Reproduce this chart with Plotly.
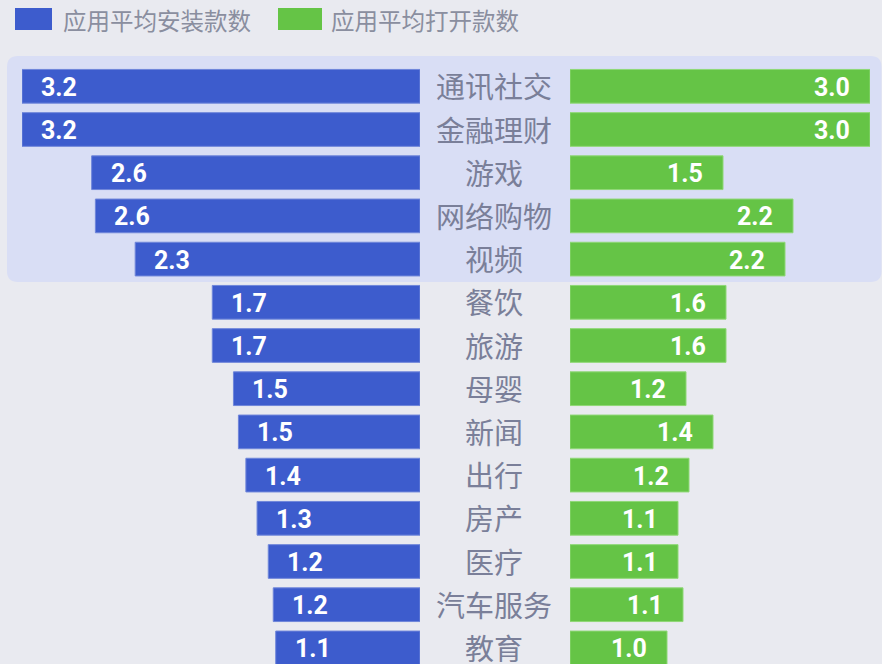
import plotly.graph_objects as go

# datos
categorias = ['通讯社交', '金融理财', '游戏', '网络购物', '视频', '餐饮', '旅游',
              '母婴', '新闻', '出行', '房产', '医疗', '汽车服务', '教育']
instalados = [3.20, 3.20, 2.64, 2.61, 2.29, 1.67, 1.67, 1.50, 1.46, 1.40, 1.31, 1.22, 1.18, 1.16]
instalados_txt = ['3.2', '3.2', '2.6', '2.6', '2.3', '1.7', '1.7', '1.5', '1.5', '1.4', '1.3', '1.2', '1.2', '1.1']
abiertos = [3.00, 3.00, 1.53, 2.23, 2.15, 1.56, 1.56, 1.16, 1.43, 1.19, 1.08, 1.08, 1.13, 0.97]
abiertos_txt = ['3.0', '3.0', '1.5', '2.2', '2.2', '1.6', '1.6', '1.2', '1.4', '1.2', '1.1', '1.1', '1.1', '1.0']
series = ['应用平均安装款数', '应用平均打开款数']

W, H = 882, 664
AZUL = '#3D5CCD'
VERDE = '#65C446'
FONDO = '#E9EAF0'
NUM_FONT = dict(family='Roboto, sans-serif', size=25, color='white', weight=700)

fig = go.Figure()

fig.add_trace(go.Bar(
    y=categorias, x=instalados, orientation='h', xaxis='x', yaxis='y',
    marker=dict(color=AZUL, line=dict(width=1, color='#6F86DA')), showlegend=False,
    hoverinfo='skip'
))
fig.add_trace(go.Bar(
    y=categorias, x=abiertos, orientation='h', xaxis='x2', yaxis='y',
    marker=dict(color=VERDE, line=dict(width=1, color='#8FD876')), showlegend=False,
    hoverinfo='skip'
))

anotaciones = []
for cat, v, t in zip(categorias, instalados, instalados_txt):
    anotaciones.append(dict(x=v, y=cat, xref='x', yref='y', text=t, yshift=-1,
                            xanchor='left', xshift=17, showarrow=False, font=NUM_FONT))
for cat, v, t in zip(categorias, abiertos, abiertos_txt):
    anotaciones.append(dict(x=v, y=cat, xref='x2', yref='y', text=t, yshift=-1,
                            xanchor='right', xshift=-18, showarrow=False, font=NUM_FONT))
for cat in categorias:
    anotaciones.append(dict(x=494 / W, y=cat, xref='paper', yref='y', text=cat,
                            xanchor='center', yanchor='middle', yshift=1, showarrow=False,
                            font=dict(family='Noto Sans CJK SC', size=29, color='#7A7F99')))

# leyenda manual
shapes = []
for i, (nombre, col) in enumerate(zip(series, [AZUL, VERDE])):
    x0, x1, xt = [(15, 52, 61), (278, 322, 329)][i]
    shapes.append(dict(type='rect', xref='paper', yref='paper', layer='below',
                       x0=x0 / W, x1=x1 / W, y0=1 - 30 / H, y1=1 - 8 / H,
                       fillcolor=col, line=dict(width=0)))
    anotaciones.append(dict(x=xt / W, y=1 - 20 / H, xref='paper', yref='paper',
                            text=nombre, xanchor='left', yanchor='middle', showarrow=False,
                            font=dict(family='Noto Sans CJK SC', size=23.5, color='#8A8E9F')))

# recuadro resaltado con esquinas redondeadas
x0, x1, y0, y1, r = 7, 881.5, 56, 282, 11
def px(x):
    return x / W
def py(y):
    return 1 - y / H
path = (f'M {px(x0 + r)} {py(y0)} L {px(x1 - r)} {py(y0)} '
        f'Q {px(x1)} {py(y0)} {px(x1)} {py(y0 + r)} L {px(x1)} {py(y1 - r)} '
        f'Q {px(x1)} {py(y1)} {px(x1 - r)} {py(y1)} L {px(x0 + r)} {py(y1)} '
        f'Q {px(x0)} {py(y1)} {px(x0)} {py(y1 - r)} L {px(x0)} {py(y0 + r)} '
        f'Q {px(x0)} {py(y0)} {px(x0 + r)} {py(y0)} Z')
shapes.append(dict(type='path', path=path, xref='paper', yref='paper', layer='below',
                   fillcolor='#D9DEF5', line=dict(width=0)))

fig.update_layout(
    width=W, height=H,
    margin=dict(l=0, r=0, t=0, b=0),
    paper_bgcolor=FONDO, plot_bgcolor='rgba(0,0,0,0)',
    bargap=0.22,
    xaxis=dict(domain=[22 / W, 420 / W], range=[3.2, 0], visible=False, fixedrange=True),
    xaxis2=dict(domain=[570 / W, 870 / W], range=[0, 3.0], visible=False, fixedrange=True),
    yaxis=dict(range=[13 + (664 - 647.9) / 43.2, -86.3 / 43.2], visible=False,
               type='category', categoryorder='array', categoryarray=categorias),
    annotations=anotaciones,
    shapes=shapes,
)

fig.write_html('out.html', config={'displayModeBar': False},
               post_script="document.body.style.margin='0';")
